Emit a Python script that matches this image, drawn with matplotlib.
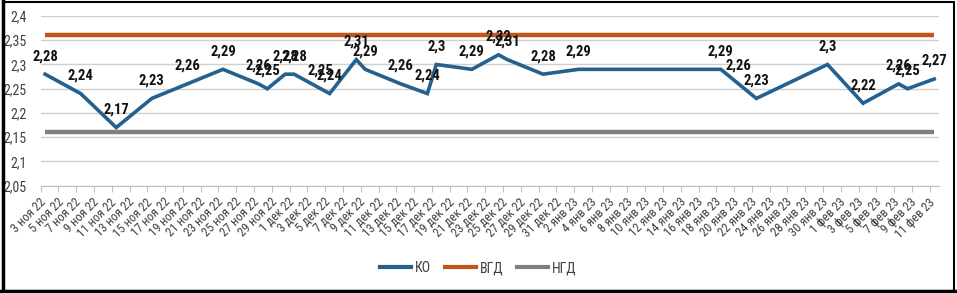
import pandas as pd
import matplotlib
matplotlib.use('Agg')
import matplotlib.pyplot as plt
from matplotlib import font_manager as fm
from matplotlib.lines import Line2D
from matplotlib.patches import Rectangle
from matplotlib.transforms import ScaledTranslation

# узкий шрифт, если есть
names = {f.name for f in fm.fontManager.ttflist}
cands = ['Liberation Sans Narrow', 'Roboto Condensed', 'Open Sans Condensed',
         'Noto Sans Condensed', 'DejaVu Sans Condensed']
narrow = next((n for n in cands if n in names), None)
cond = [f for f in fm.fontManager.ttflist
        if f.stretch in ('condensed', 'semi-condensed', 'extra-condensed', 300, 400)]
if narrow:
    plt.rcParams['font.family'] = [narrow, 'DejaVu Sans']
    SCALE = 1.0
elif cond:
    plt.rcParams['font.family'] = [cond[0].name, 'DejaVu Sans']
    plt.rcParams['font.stretch'] = 'condensed'
    SCALE = 0.95
else:
    plt.rcParams['font.family'] = ['DejaVu Sans']
    SCALE = 0.8

# данные
dates = ['2022-11-03', '2022-11-07', '2022-11-11', '2022-11-15', '2022-11-19',
         '2022-11-23', '2022-11-27', '2022-11-28', '2022-11-30', '2022-12-01',
         '2022-12-04', '2022-12-05', '2022-12-08', '2022-12-09', '2022-12-13',
         '2022-12-16', '2022-12-17', '2022-12-21', '2022-12-24', '2022-12-25',
         '2022-12-29', '2023-01-02', '2023-01-18', '2023-01-20', '2023-01-22',
         '2023-01-30', '2023-02-03', '2023-02-07', '2023-02-08', '2023-02-11']
ko = [2.28, 2.24, 2.17, 2.23, 2.26,
      2.29, 2.26, 2.25, 2.28, 2.28,
      2.25, 2.24, 2.31, 2.29, 2.26,
      2.24, 2.30, 2.29, 2.32, 2.31,
      2.28, 2.29, 2.29, 2.26, 2.23,
      2.30, 2.22, 2.26, 2.25, 2.27]
vgd = 2.36
ngd = 2.16
months = {11: 'ноя', 12: 'дек', 1: 'янв', 2: 'фев'}

START = pd.Timestamp('2022-11-03')
END = pd.Timestamp('2023-02-11')

KO_COLOR = '#24618F'
VGD_COLOR = '#C0561A'
NGD_COLOR = '#7F7F7F'

d = pd.to_datetime(dates)
x = (d - START).days + 0.5

fig = plt.figure(figsize=(9.57, 2.93), dpi=100)
ax = fig.add_axes([0.0425, 0.3662, 0.9383, 0.5792])

ax.plot(x, [vgd] * len(x), color=VGD_COLOR, lw=3.2, solid_capstyle='butt', zorder=3)
ax.plot(x, [ngd] * len(x), color=NGD_COLOR, lw=3.2, solid_capstyle='butt', zorder=3)
ax.plot(x, ko, color=KO_COLOR, lw=2.6, solid_joinstyle='miter', zorder=4)

for xi, v in zip(x, ko):
    lbl = ('%g' % v).replace('.', ',')
    ax.annotate(lbl, (xi, v), xytext=(0, 13), textcoords='offset points',
                ha='center', va='center', fontsize=10.5 * SCALE, fontweight='bold',
                color='#111111', zorder=5)

ndays = (END - START).days
ax.set_xlim(0, ndays + 1)
ax.set_ylim(2.05, 2.4)

yt = [2.05 + 0.05 * i for i in range(8)]
ax.set_yticks(yt)
ax.set_yticklabels([('%g' % round(t, 2)).replace('.', ',') for t in yt],
                   fontsize=10 * SCALE, color='#404040')
ax.tick_params(axis='y', length=0, pad=10)
ax.grid(axis='y', color='#D0D0D0', lw=1)
ax.set_axisbelow(True)

tick_dates = pd.date_range(START, END, freq='2D')
ax.set_xticks((tick_dates - START).days)
ax.set_xticklabels(['%d %s %s' % (t.day, months[t.month], str(t.year)[2:]) for t in tick_dates],
                   rotation=45, ha='right', va='center', rotation_mode='anchor',
                   fontsize=9 * SCALE, color='#404040')
ax.tick_params(axis='x', length=4, color='#BFBFBF', pad=5, direction='out')
shift = ScaledTranslation(3 / 100, -2 / 100, fig.dpi_scale_trans)
for t in ax.get_xticklabels():
    t.set_transform(t.get_transform() + shift)

for s in ['top', 'right', 'left']:
    ax.spines[s].set_visible(False)
ax.spines['bottom'].set_color('#BFBFBF')

handles = [Line2D([], [], color=KO_COLOR, lw=3),
           Line2D([], [], color=VGD_COLOR, lw=3),
           Line2D([], [], color=NGD_COLOR, lw=3)]
fig.legend(handles, ['КО', 'ВГД', 'НГД'], loc='center', bbox_to_anchor=(0.5, 0.085),
           ncol=3, frameon=False, fontsize=10 * SCALE, handlelength=2.2, columnspacing=1.0,
           handletextpad=0.3, labelcolor='#404040')

# рамка
fig.patches.append(Rectangle((0.003, 0.008), 0.994, 0.986, transform=fig.transFigure,
                             fill=False, edgecolor='black', lw=1.5))
fig.add_artist(Line2D([0.0035, 0.0035], [0.005, 0.995], transform=fig.transFigure, color='black', lw=2.5))
fig.add_artist(Line2D([0.0, 1.0], [0.008, 0.008], transform=fig.transFigure, color='black', lw=2.5))

fig.savefig('out.png', dpi=100)
